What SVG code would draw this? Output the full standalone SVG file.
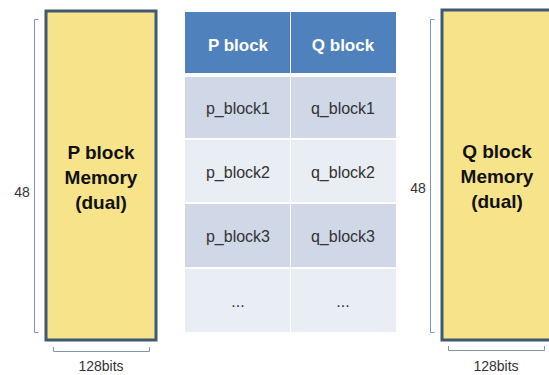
<svg xmlns="http://www.w3.org/2000/svg" width="549" height="375" viewBox="0 0 549 375">
<style>
.mem{fill:#F6E38A;stroke:#3F5973;stroke-width:3}
.memt{font-family:"Liberation Sans",Arial,sans-serif;font-weight:bold;font-size:19px;fill:#111;text-anchor:middle}
.br{fill:none;stroke:#7F96AE;stroke-width:1}
.lbl{font-family:"Liberation Sans",Arial,sans-serif;font-size:14px;fill:#333;text-anchor:middle}
.hd{fill:#4F81BD}
.r1{fill:#D0D8E8}
.r2{fill:#E9EDF4}
.ht{font-family:"Liberation Sans",Arial,sans-serif;font-weight:bold;font-size:17px;fill:#fff;text-anchor:middle}
.ct{font-family:"Liberation Sans",Arial,sans-serif;font-size:16px;fill:#333;text-anchor:middle}
</style>
<rect width="549" height="375" fill="#fff"/>
<g id="p-memory">
<rect class="mem" x="46" y="11" width="110" height="329"/>
<text class="memt" x="101" y="159">P block</text>
<text class="memt" x="101" y="184">Memory</text>
<text class="memt" x="101" y="209">(dual)</text>
</g>
<g id="q-memory">
<rect class="mem" x="442" y="10" width="110" height="330"/>
<text class="memt" x="497" y="158">Q block</text>
<text class="memt" x="497" y="183">Memory</text>
<text class="memt" x="497" y="208">(dual)</text>
</g>
<g id="table">
<rect class="hd" x="185" y="12" width="105" height="61"/>
<rect class="hd" x="291" y="12" width="105" height="61"/>
<rect class="r1" x="185" y="77" width="105" height="61"/>
<rect class="r1" x="291" y="77" width="105" height="61"/>
<rect class="r2" x="185" y="140" width="105" height="62"/>
<rect class="r2" x="291" y="140" width="105" height="62"/>
<rect class="r1" x="185" y="204" width="105" height="63"/>
<rect class="r1" x="291" y="204" width="105" height="63"/>
<rect class="r2" x="185" y="269" width="105" height="63"/>
<rect class="r2" x="291" y="269" width="105" height="63"/>
<text class="ht" x="238" y="51">P block</text>
<text class="ht" x="343" y="51">Q block</text>
<text class="ct" x="238" y="114">p_block1</text>
<text class="ct" x="343" y="114">q_block1</text>
<text class="ct" x="238" y="178">p_block2</text>
<text class="ct" x="343" y="178">q_block2</text>
<text class="ct" x="238" y="242">p_block3</text>
<text class="ct" x="343" y="242">q_block3</text>
<text class="ct" x="238" y="307">...</text>
<text class="ct" x="343" y="307">...</text>
</g>
<g id="connectors">
<path class="br" d="M38.5,19.5 H34.5 V332.5 H38.5"/>
<path class="br" d="M53.5,347 V351.5 H149.5 V347"/>
<path class="br" d="M434.5,19.5 H430.5 V332.5 H434.5"/>
<path class="br" d="M448.5,346 V350.5 H544.5 V346"/>
</g>
<g id="labels">
<text class="lbl" x="22" y="197">48</text>
<text class="lbl" x="101" y="371">128bits</text>
<text class="lbl" x="418" y="193">48</text>
<text class="lbl" x="496" y="371">128bits</text>
</g>
</svg>
